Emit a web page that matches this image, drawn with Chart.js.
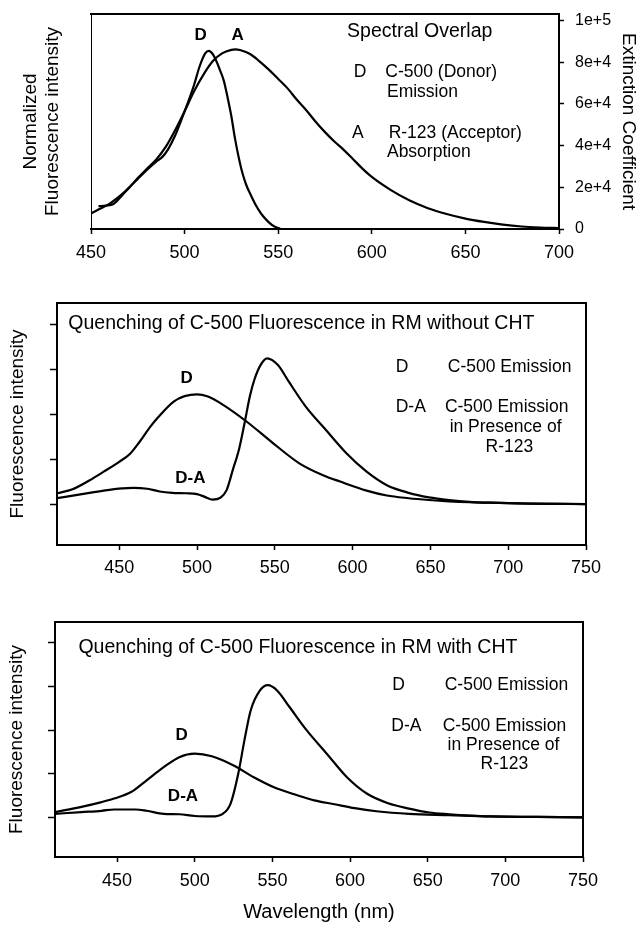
<!DOCTYPE html>
<html><head><meta charset="utf-8">
<script src="https://cdn.jsdelivr.net/npm/chart.js@4.4.0/dist/chart.umd.min.js"></script>
<style>
html,body{margin:0;padding:0;background:#fff;}
#wrap{position:relative;width:640px;height:926px;background:#fff;overflow:hidden;}
canvas{position:absolute;left:0;}
</style></head><body>
<div id="wrap">
<canvas id="c1" width="640" height="290" style="top:0;width:640px;height:290px"></canvas>
<canvas id="c2" width="640" height="310" style="top:290px;width:640px;height:310px"></canvas>
<canvas id="c3" width="640" height="326" style="top:600px;width:640px;height:326px"></canvas>
</div>
<script>
// ---------- Panel 1: Spectral overlap ----------
const P1_X_TICKS = [450, 500, 550, 600, 650, 700];
const P1_Y_TICKS = [0, 20000, 40000, 60000, 80000, 100000];
const P1_Y_TICK_LABELS = ['0', '2e+4', '4e+4', '6e+4', '8e+4', '1e+5'];
const P1_D_WL  = [454,458,462,466,470,475,480,485,488,491,495,500,505,508,511,513,515,517,519,521,523,525,527,529,531,533,535,538,541,545,548,551];
const P1_D_VAL = [11000,11200,12000,15500,19500,24000,28500,32500,34500,38000,45000,56500,69000,78000,84300,85500,84000,80500,76000,71000,63000,54000,43000,34000,26500,21000,17000,11500,7200,3200,1200,200];
const P1_A_WL  = [450,455,460,465,470,475,480,485,490,495,500,505,510,515,520,525,527,530,535,540,545,550,555,560,565,570,575,580,585,590,595,600,610,620,630,640,650,660,670,680,690,700];
const P1_A_VAL = [7400,9800,12200,15500,19500,24500,29000,33500,39500,47500,56500,66000,74000,80500,84300,86000,86200,85800,84000,80500,76500,72000,67500,62000,57000,51500,46500,42000,38000,33500,29000,25000,18800,13800,10000,7200,5000,3400,2100,1200,700,400];
const P1_NOTES_TEXT = ['D','A','Spectral Overlap','D','C-500 (Donor)','Emission','A','R-123 (Acceptor)','Absorption'];
const P1_NOTES_X    = [508.6, 528.3, 586.8, 590.3, 607.2, 608.1, 589.4, 609.0, 608.1];
const P1_NOTES_Y    = [92900, 92900, 94700, 75500, 75500, 65900, 45900, 45900, 37000];

// ---------- Panel 2: RM without CHT ----------
const P23_X_TICKS = [450, 500, 550, 600, 650, 700, 750];
const P23_Y_TICKS = [0, 1, 2, 3, 4];
const P2_D_WL   = [410,420,431,440,450,457,463,470,475,485,492,500,507,517,532,549,566,581,592,609,622,636,649,662,675,688,701,714,730,750];
const P2_D_VAL  = [0.24,0.33,0.53,0.72,0.94,1.12,1.38,1.72,1.93,2.28,2.40,2.44,2.39,2.20,1.83,1.35,0.90,0.64,0.50,0.30,0.19,0.13,0.09,0.06,0.04,0.03,0.02,0.01,0.005,0];
const P2_DA_WL  = [410,426,440,452,459,468,476,484,493,500,505,510,515,519,523,527,530.5,534,537,541,545,552,559,570,583,596,609,622,636,649,662,675,688,714,750];
const P2_DA_VAL = [0.13,0.22,0.30,0.35,0.36,0.34,0.28,0.25,0.24,0.22,0.16,0.10,0.14,0.31,0.76,1.22,1.79,2.40,2.78,3.10,3.24,3.09,2.72,2.16,1.64,1.13,0.72,0.42,0.25,0.15,0.09,0.05,0.03,0.01,0];
const P2_NOTES_TEXT = ['Quenching of C-500 Fluorescence in RM without CHT','D','D-A','D','C-500 Emission','D-A','C-500 Emission','in Presence of','R-123'];
const P2_NOTES_X    = [417.3, 493.4, 495.7, 627.7, 700.9, 627.7, 699.0, 698.3, 700.8];
const P2_NOTES_Y    = [4.02, 2.79, 0.57, 3.04, 3.04, 2.15, 2.15, 1.70, 1.27];

// ---------- Panel 3: RM with CHT ----------
const P3_D_WL   = [410,427,440,448,459,469,480,490,500,511,525,538,551,564,577,590,603,617,638,664,690,720,750];
const P3_D_VAL  = [0.12,0.24,0.35,0.43,0.58,0.85,1.15,1.38,1.46,1.40,1.19,0.92,0.69,0.53,0.39,0.30,0.21,0.14,0.08,0.05,0.02,0.01,0];
const P3_DA_WL  = [410,427,440,448,462,469,480,490,500,511,518,523,528,532,536,542,547,553,561,572,585,598,611,624,638,651,664,677,690,720,750];
const P3_DA_VAL = [0.08,0.12,0.15,0.18,0.18,0.15,0.08,0.07,0.03,0.02,0.08,0.31,1.00,1.77,2.45,2.91,3.03,2.91,2.53,2.00,1.46,0.92,0.54,0.33,0.20,0.11,0.07,0.04,0.02,0.01,0];
const P3_NOTES_TEXT = ['Quenching of C-500 Fluorescence in RM with CHT','D','D-A','D','C-500 Emission','D-A','C-500 Emission','in Presence of','R-123'];
const P3_NOTES_X    = [425.1, 491.6, 492.4, 627.1, 700.7, 626.6, 699.4, 698.8, 699.4];
const P3_NOTES_Y    = [3.89, 1.88, 0.48, 3.03, 3.03, 2.09, 2.09, 1.65, 1.22];

// ---------- styling ----------
const FONT = '"Liberation Sans", Arial, Helvetica, sans-serif';
const BLACK = '#000';
// per-note style: kind 0 = title, 1 = bold curve label, 2 = legend text
const P1_NOTE_KIND  = [1,1,0,2,2,2,2,2,2];
const P1_NOTE_ALIGN = ['center','center','left','left','left','left','left','left','left'];
const P23_NOTE_KIND  = [0,1,1,2,2,2,2,2,2];
const P23_NOTE_ALIGN = ['left','center','center','left','center','left','center','center','center'];
const KIND_FONT = [
  {size: 19.5, weight: 'normal'},
  {size: 17, weight: 'bold'},
  {size: 17.5, weight: 'normal'}
];

const pts = (xs, ys) => xs.map((x, i) => ({x: x, y: ys[i]}));
const fix = (prop, val) => (s) => { s[prop] = val; s.paddingTop = 0; s.paddingBottom = 0; s.paddingLeft = 0; s.paddingRight = 0; };
const setTicks = (arr) => (s) => { s.ticks = arr.map(v => ({value: v})); };

const framePlugin = {
  id: 'frame',
  afterDatasetsDraw(chart, args, o) {
    const {ctx, chartArea: a} = chart;
    ctx.save();
    ctx.strokeStyle = BLACK;
    ctx.lineCap = 'square';
    const side = (w, x1, y1, x2, y2) => {
      if (!w) return;
      ctx.lineWidth = w;
      ctx.beginPath(); ctx.moveTo(x1, y1); ctx.lineTo(x2, y2); ctx.stroke();
    };
    side(o.top, a.left, a.top, a.right, a.top);
    side(o.bottom, a.left, a.bottom, a.right, a.bottom);
    side(o.left, a.left + (o.left % 2 ? 0.5 : 0), a.top, a.left + (o.left % 2 ? 0.5 : 0), a.bottom);
    side(o.right, a.right, a.top, a.right, a.bottom);
    ctx.restore();
  }
};

const notesPlugin = {
  id: 'notes',
  afterDraw(chart, args, o) {
    const {ctx} = chart;
    const xs = chart.scales.x, ys = chart.scales.y;
    ctx.save();
    ctx.fillStyle = BLACK;
    ctx.textBaseline = 'middle';
    o.text.forEach((t, i) => {
      const f = KIND_FONT[o.kind[i]];
      ctx.font = f.weight + ' ' + f.size + 'px ' + FONT;
      ctx.textAlign = o.align[i];
      ctx.fillText(t, xs.getPixelForValue(o.x[i]), ys.getPixelForValue(o.y[i]));
    });
    ctx.restore();
  }
};

function lineDs(data) {
  return {data: data, borderColor: BLACK, borderWidth: 2.2, pointRadius: 0, fill: false,
          cubicInterpolationMode: 'monotone', yAxisID: 'y'};
}

function xScale(min, max, ticksArr, height, pad, title) {
  return {
    type: 'linear', position: 'bottom', min: min, max: max,
    afterBuildTicks: setTicks(ticksArr), afterFit: fix('height', height),
    border: {display: false},
    grid: {display: true, drawOnChartArea: false, drawTicks: true, tickLength: 5, tickColor: BLACK, tickWidth: 1.5, color: BLACK},
    ticks: {color: BLACK, font: {family: FONT, size: 18}, padding: pad, maxRotation: 0, autoSkip: false, callback: (v) => String(v)},
    title: title ? {display: true, text: title, color: BLACK, font: {family: FONT, size: 20}, padding: {top: 0, bottom: 2}} : {display: false}
  };
}

// ---------- Chart 1 ----------
new Chart(document.getElementById('c1'), {
  type: 'line',
  data: {datasets: [lineDs(pts(P1_A_WL, P1_A_VAL)), lineDs(pts(P1_D_WL, P1_D_VAL))]},
  options: {
    responsive: false, animation: false, devicePixelRatio: 1,
    layout: {padding: {top: 14, left: 0, right: 0, bottom: 0}},
    plugins: {
      legend: {display: false}, tooltip: {enabled: false},
      frame: {top: 2, bottom: 2, left: 1, right: 2},
      notes: {text: P1_NOTES_TEXT, x: P1_NOTES_X, y: P1_NOTES_Y, kind: P1_NOTE_KIND, align: P1_NOTE_ALIGN}
    },
    scales: {
      x: xScale(450, 700, P1_X_TICKS, 61, 8, null),
      yL: {
        type: 'linear', position: 'left', min: 0, max: 103200,
        afterFit: fix('width', 91),
        border: {display: false}, grid: {display: false}, ticks: {display: false},
        title: {display: true, text: ['Normalized', 'Fluorescence intensity'], color: BLACK,
                font: {family: FONT, size: 19, lineHeight: 1.16}, padding: {top: 20, bottom: 0}}
      },
      y: {
        type: 'linear', position: 'right', min: 0, max: 103200,
        afterBuildTicks: setTicks(P1_Y_TICKS), afterFit: fix('width', 81),
        border: {display: false},
        grid: {display: true, drawOnChartArea: false, drawTicks: true, tickLength: 5, tickColor: BLACK, tickWidth: 1.5, color: BLACK},
        ticks: {color: BLACK, font: {family: FONT, size: 16}, padding: 11,
                callback: (v) => P1_Y_TICK_LABELS[P1_Y_TICKS.indexOf(v)]},
        title: {display: true, text: 'Extinction Coefficient', color: BLACK, font: {family: FONT, size: 19}, padding: {top: 0, bottom: 0}}
      }
    }
  },
  plugins: [framePlugin, notesPlugin]
});

// ---------- Charts 2 & 3 ----------
function quenchChart(id, dWl, dVal, daWl, daVal, notes, geo) {
  new Chart(document.getElementById(id), {
    type: 'line',
    data: {datasets: [lineDs(pts(dWl, dVal)), lineDs(pts(daWl, daVal))]},
    options: {
      responsive: false, animation: false, devicePixelRatio: 1,
      layout: {padding: {top: geo.top, left: 0, right: geo.right, bottom: 0}},
      plugins: {
        legend: {display: false}, tooltip: {enabled: false},
        frame: {top: 2, bottom: 2, left: 2, right: 2},
        notes: notes
      },
      scales: {
        x: xScale(410, 750, P23_X_TICKS, geo.xh, geo.xpad, geo.xtitle),
        y: {
          type: 'linear', position: 'left', min: geo.ymin, max: geo.ymax,
          afterBuildTicks: setTicks(P23_Y_TICKS), afterFit: fix('width', geo.left),
          border: {display: false},
          grid: {display: true, drawOnChartArea: false, drawTicks: true, tickLength: 7, tickColor: BLACK, tickWidth: 1.5, color: BLACK},
          ticks: {display: false},
          title: {display: true, text: 'Fluorescence intensity', color: BLACK, font: {family: FONT, size: 19}, padding: {top: geo.ytpad, bottom: 0}}
        }
      }
    },
    plugins: [framePlugin, notesPlugin]
  });
}

quenchChart('c2', P2_D_WL, P2_D_VAL, P2_DA_WL, P2_DA_VAL,
  {text: P2_NOTES_TEXT, x: P2_NOTES_X, y: P2_NOTES_Y, kind: P23_NOTE_KIND, align: P23_NOTE_ALIGN},
  {top: 13, right: 54, left: 57, xh: 55, xpad: 7, xtitle: null, ymin: -0.91, ymax: 4.47, ytpad: 6.6});

quenchChart('c3', P3_D_WL, P3_D_VAL, P3_DA_WL, P3_DA_VAL,
  {text: P3_NOTES_TEXT, x: P3_NOTES_X, y: P3_NOTES_Y, kind: P23_NOTE_KIND, align: P23_NOTE_ALIGN},
  {top: 22, right: 57, left: 55, xh: 69, xpad: 8, xtitle: 'Wavelength (nm)', ymin: -0.91, ymax: 4.48, ytpad: 5.3});
</script>
</body></html>
